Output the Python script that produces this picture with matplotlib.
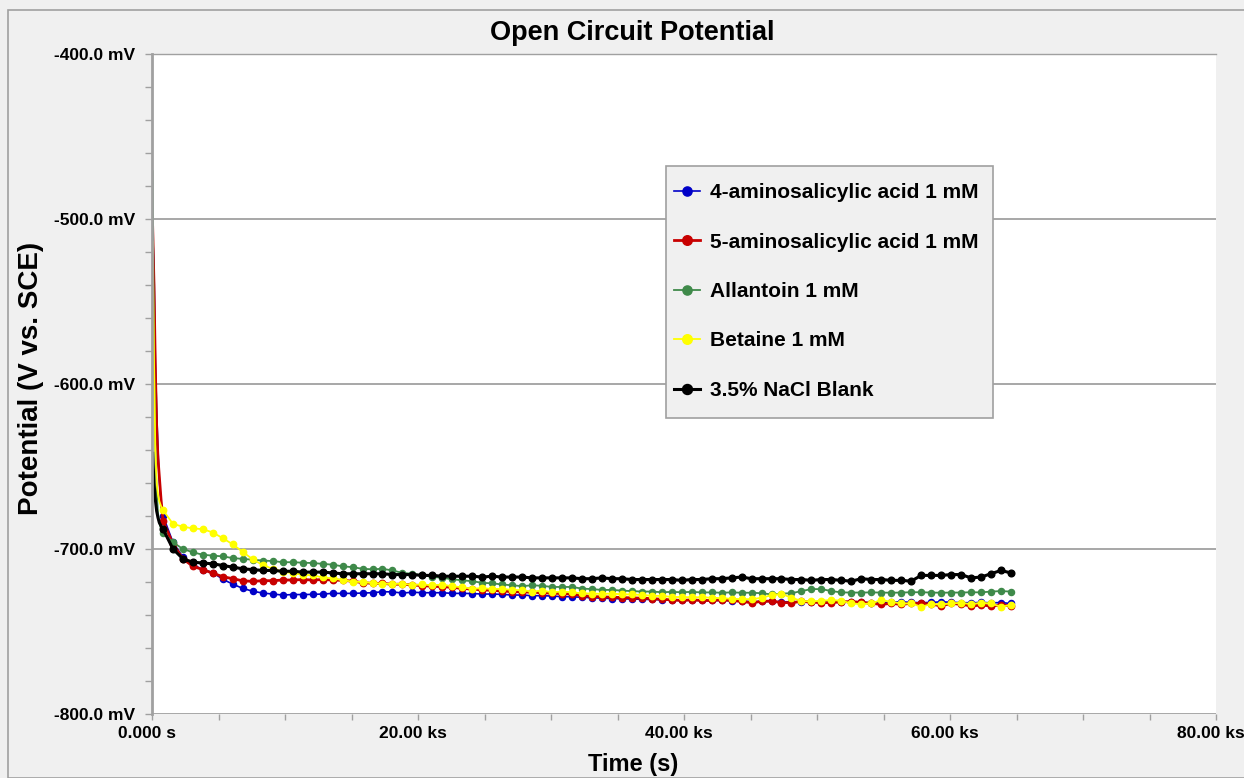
import numpy as np
import matplotlib
matplotlib.use("Agg")
import matplotlib.pyplot as plt
from matplotlib.ticker import FuncFormatter, MultipleLocator
from matplotlib.transforms import ScaledTranslation
from matplotlib.patches import Rectangle

# ---------------- data ----------------
# time in ks: dense start (steep drop) + regular sampled points
t_early_ks = [0.05, 0.15, 0.25, 0.35, 0.45, 0.55, 0.68]
t_grid_ks = list(np.round(0.83 + 0.75 * np.arange(86), 2))

labels = ["4-aminosalicylic acid 1 mM", "5-aminosalicylic acid 1 mM",
          "Allantoin 1 mM", "Betaine 1 mM", "3.5% NaCl Blank"]

asa4_early = [-508, -530, -585, -615, -640, -658, -672]
asa4 = [-680, -696, -705, -709.5, -712.5, -714.3, -718.4, -721.3, -723.9, -725.6,
        -726.7, -727.3, -727.9, -727.6, -727.6, -727.5, -727.3, -726.9, -726.9, -726.9,
        -726.7, -726.5, -725.9, -726.0, -726.7, -726.2, -726.5, -726.5, -726.5, -726.9,
        -726.9, -727.0, -727.3, -727.3, -727.5, -727.9, -727.9, -728.3, -728.3, -728.5,
        -728.9, -728.9, -729.3, -729.5, -729.8, -730.0, -730.2, -730.3, -730.5, -730.6,
        -730.8, -731.0, -731.2, -731.0, -731.2, -731.2, -731.2, -731.3, -731.6, -731.9,
        -731.8, -731.8, -732.0, -732.0, -732.0, -732.0, -732.2, -732.3, -732.2, -732.2,
        -732.3, -732.5, -732.5, -732.3, -732.0, -732.4, -732.5, -732.4, -732.0, -732.3,
        -732.5, -732.6, -732.4, -732.6, -732.5, -733.0]

asa5_early = [-505, -540, -590, -626, -645, -656, -670]
asa5 = [-683, -697, -706, -710.5, -712.5, -714.7, -716.8, -718.0, -719.3, -719.6,
        -719.2, -719.2, -718.8, -718.8, -718.5, -718.8, -718.5, -718.8, -719.0, -719.5,
        -720.4, -720.8, -720.8, -721.4, -721.3, -721.8, -722.2, -722.6, -722.8, -723.2,
        -723.9, -724.3, -724.8, -725.0, -725.5, -725.8, -726.0, -726.2, -726.5, -726.8,
        -727.0, -727.3, -728.2, -728.8, -729.0, -729.2, -729.4, -729.6, -729.8, -730.0,
        -730.5, -730.8, -731.2, -730.8, -731.2, -731.2, -730.8, -731.2, -731.8, -732.5,
        -731.8, -731.5, -732.5, -732.5, -731.8, -732.2, -732.5, -732.5, -732.0, -731.9,
        -732.3, -733.0, -733.5, -733.0, -733.5, -733.0, -733.0, -733.4, -734.5, -733.0,
        -733.5, -734.5, -734.0, -734.5, -734.0, -734.5]

allan_early = [-471, -585, -640, -665, -678, -684, -688]
allan = [-690, -696, -700, -702, -703.5, -704, -704.5, -705.5, -706, -706.5,
         -707, -707.3, -708, -708, -708.3, -708.5, -709, -709.5, -710.5, -711,
         -712, -712.3, -712, -713, -714.5, -715, -716, -716.8, -717.5, -718.3,
         -719, -719.5, -720.5, -720.8, -721.5, -722, -722.5, -722, -722.3, -723,
         -723, -723, -724, -724.3, -724.8, -724.8, -725.2, -725.5, -725.8, -725.8,
         -726.2, -726, -726.2, -726, -726.3, -726.3, -726.5, -726.3, -726.5, -726.5,
         -726.8, -727.5, -727, -726.8, -725.5, -724.3, -724.3, -725.5, -726.3, -726.4,
         -726.4, -726.3, -726.4, -726.5, -726.4, -726.2, -726.2, -726.4, -726.5, -726.4,
         -726.4, -726.2, -726.3, -725.8, -725.5, -725.8]

betaine_early = [-514, -585, -640, -660, -667, -671, -674]
betaine = [-676.5, -684.8, -686.5, -687.5, -688, -690, -693.5, -697.2, -701.8, -706.3,
           -709.7, -712, -713.7, -714.7, -715.5, -716, -717.2, -717.8, -718.8, -719.8,
           -720, -720.6, -721, -721.2, -721, -721.8, -721.5, -722, -721.6, -722.6,
           -723.2, -724, -723.8, -724.2, -724.2, -724.8, -725, -725.8, -725.2, -726.2,
           -725.8, -726.2, -726.9, -727, -727.2, -727, -727.5, -727.5, -727.9, -728.3,
           -728.5, -729, -729.2, -729.2, -729.3, -729.5, -729.8, -730.2, -730.4, -730.4,
           -729.6, -728, -727.2, -729.5, -731.5, -731.8, -731.3, -731, -731.3, -733,
           -733.4, -733, -730.9, -732, -733, -733, -735, -733.4, -733.6, -733,
           -732.6, -733.4, -732.6, -733, -735, -734]

blank_early = [-642, -660, -670, -677, -681, -684, -686]
blank = [-688, -700, -706, -708, -708.5, -709, -710, -711, -712, -712.5,
         -713, -713, -713.5, -713.5, -714, -714, -714, -714.5, -715, -715,
         -715, -715, -715, -715.5, -715.5, -715.5, -716, -716, -716.5, -716.5,
         -716.5, -716.5, -717, -716.5, -717, -717, -717, -717.5, -717.5, -717.5,
         -717.5, -717.5, -718, -718, -717.5, -718, -718, -718.5, -718.5, -718.5,
         -718.5, -718.5, -719, -718.5, -718.5, -718, -718, -717.5, -717, -718,
         -718, -718, -718, -718.5, -718.5, -719, -718.5, -718.5, -719, -719.5,
         -718, -718.5, -718.5, -719, -719, -719.5, -716, -716, -716, -715.5,
         -715.5, -717.5, -717, -715, -713, -714.5]

series_early = [asa4_early, asa5_early, allan_early, betaine_early, blank_early]
series_grid = [asa4, asa5, allan, betaine, blank]
colors = ["#0000c8", "#c80000", "#3f8a4a", "#ffff00", "#000000"]
lws = [1.2, 2.0, 1.3, 1.3, 2.2]
mss = [4.4, 4.6, 4.4, 4.6, 4.8]

# ---------------- figure ----------------
W, H = 1244, 778
fig = plt.figure(figsize=(W / 100, H / 100), dpi=100)
fig.patch.set_facecolor("#f0f0f0")
plt.rcParams["font.family"] = ["Liberation Sans", "DejaVu Sans"]

fig.add_artist(Rectangle((8 / W, 0.0), 1.5, 1 - 10 / H, transform=fig.transFigure,
                         fill=False, edgecolor="#a0a0a0", linewidth=1.2))

L, R, T, B = 152, 1216, 54, 714
ax = fig.add_axes([L / W, 1 - B / H, (R - L) / W, (B - T) / H])
ax.set_facecolor("white")

t_all_s = np.array(t_early_ks + t_grid_ks) * 1000.0
n_early = len(t_early_ks)
for lab, e, g, c, lw, ms in zip(labels, series_early, series_grid, colors, lws, mss):
    y = np.array(e + g)
    ax.plot(t_all_s, y, color=c, lw=lw, marker="o", ms=ms, mec=c, mfc=c,
            markevery=list(range(n_early, len(y))), label=lab)

ax.set_xlim(0, 80000)
ax.set_ylim(-800, -400)

ax.xaxis.set_major_locator(MultipleLocator(20000))
ax.xaxis.set_minor_locator(MultipleLocator(5000))
ax.yaxis.set_major_locator(MultipleLocator(100))
ax.yaxis.set_minor_locator(MultipleLocator(20))


def xfmt(v, pos):
    if abs(v) < 1e-9:
        return "0.000 s"
    return f"{v / 1000:.2f} ks"


ax.xaxis.set_major_formatter(FuncFormatter(xfmt))
ax.yaxis.set_major_formatter(FuncFormatter(lambda v, p: f"{v:.1f} mV"))

ax.tick_params(axis="both", which="both", direction="out", color="#a0a0a0")
ax.tick_params(axis="y", which="major", length=5, width=1, pad=7, labelsize=12.5)
ax.tick_params(axis="y", which="minor", length=5, width=1)
ax.tick_params(axis="x", which="major", length=4, width=1, pad=5, labelsize=12.5)
ax.tick_params(axis="x", which="minor", length=4, width=1)
for lbl in ax.get_xticklabels() + ax.get_yticklabels():
    lbl.set_fontweight("bold")
for lbl in ax.get_xticklabels():
    lbl.set_transform(lbl.get_transform() + ScaledTranslation(-5 / 100, 0, fig.dpi_scale_trans))

ax.grid(axis="y", which="major", color="#a0a0a0", lw=1.3)
ax.set_axisbelow(True)

for s in ["right", "bottom"]:
    ax.spines[s].set_visible(False)
ax.spines["left"].set_color("#a0a0a0")
ax.spines["left"].set_linewidth(2)
ax.spines["top"].set_color("#a0a0a0")
ax.spines["top"].set_linewidth(1)

fig.text(632 / W, 1 - 33 / H, "Open Circuit Potential", ha="center", va="center",
         fontsize=19.5, fontweight="bold")
fig.text(633 / W, 1 - 764 / H, "Time (s)", ha="center", va="center",
         fontsize=17, fontweight="bold")
fig.text(31 / W, 1 - 378 / H, "Potential (V vs. SCE)", ha="center", va="center",
         rotation=90, fontsize=20, fontweight="bold")

# legend box drawn explicitly, entries placed via ax.legend without frame
ax.add_patch(Rectangle((666 / W, 1 - 418 / H), (993 - 666) / W, (418 - 166) / H,
                       transform=fig.transFigure, clip_on=False,
                       facecolor="#f0f0f0", edgecolor="#a0a0a0", lw=1.2, zorder=4.5))
leg = ax.legend(loc="center left", bbox_to_anchor=(674 / W, 1 - 291.5 / H),
                bbox_transform=fig.transFigure, frameon=False,
                prop={"weight": "bold", "size": 15}, borderpad=0,
                labelspacing=1.46, handlelength=1.25, handletextpad=0.5,
                borderaxespad=0, markerscale=1.5)
leg.set_zorder(5)

fig.savefig("out.png", dpi=100, facecolor=fig.get_facecolor())
